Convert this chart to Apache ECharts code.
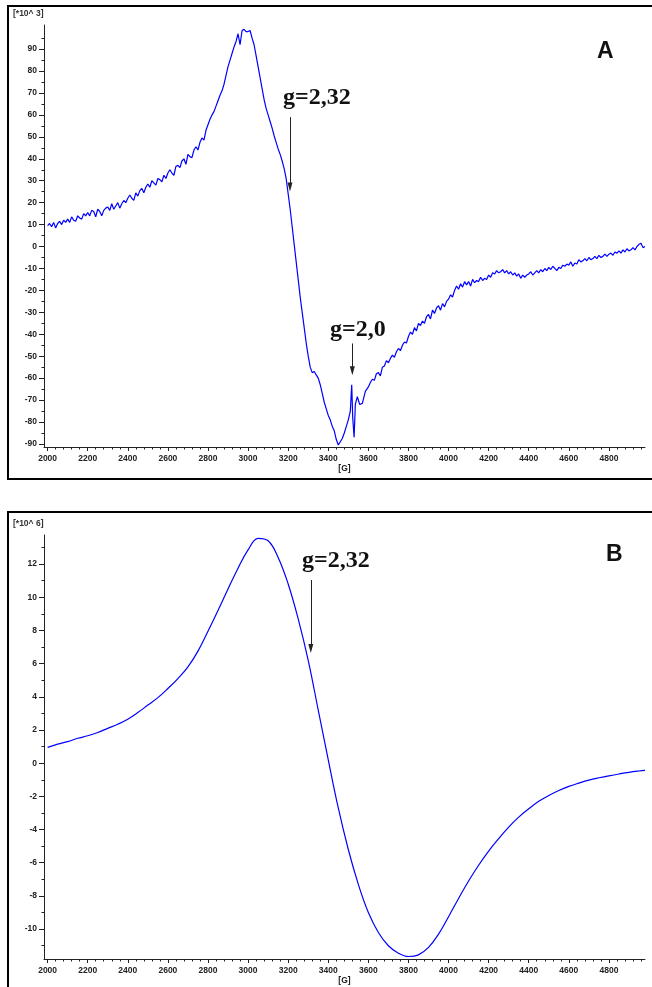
<!DOCTYPE html>
<html>
<head>
<meta charset="utf-8">
<script src="https://cdn.jsdelivr.net/npm/echarts@6/dist/echarts.min.js"></script>
<style>
html, body { margin: 0; padding: 0; background: #fff; }
#main { width: 652px; height: 987px; }
</style>
</head>
<body>
<div id="main"></div>
<script>
// tick labels
var fieldTicks = [2000, 2200, 2400, 2600, 2800, 3000, 3200, 3400, 3600, 3800, 4000, 4200, 4400, 4600, 4800];
var ticksA = [-90, -80, -70, -60, -50, -40, -30, -20, -10, 0, 10, 20, 30, 40, 50, 60, 70, 80, 90];
var ticksB = [-10, -8, -6, -4, -2, 0, 2, 4, 6, 8, 10, 12];

// spectrum A (x10^3), field in G
var fieldA = [
    2000, 2010, 2020, 2030, 2040, 2050, 2060, 2070, 2080, 2090, 2100, 2110, 2120, 2130, 2140, 2150, 2160, 2170, 2180, 2190,
    2200, 2210, 2220, 2230, 2240, 2250, 2260, 2270, 2280, 2290, 2300, 2310, 2320, 2330, 2340, 2350, 2360, 2370, 2380, 2390,
    2400, 2410, 2420, 2430, 2440, 2450, 2460, 2470, 2480, 2490, 2500, 2510, 2520, 2530, 2540, 2550, 2560, 2570, 2580, 2590,
    2600, 2610, 2620, 2630, 2640, 2650, 2660, 2670, 2680, 2690, 2700, 2710, 2720, 2730, 2740, 2750, 2760, 2770, 2780, 2790,
    2800, 2810, 2820, 2830, 2840, 2850, 2860, 2870, 2880, 2890, 2900, 2910, 2920, 2930, 2940, 2950, 2960, 2970, 2980, 2990,
    3000, 3010, 3020, 3030, 3040, 3050, 3060, 3070, 3080, 3090, 3100, 3110, 3120, 3130, 3140, 3150, 3160, 3170, 3180, 3190,
    3200, 3210, 3220, 3230, 3240, 3250, 3260, 3270, 3280, 3290, 3300, 3310, 3320, 3330, 3340, 3350, 3360, 3370, 3380, 3390,
    3400, 3410, 3420, 3430, 3440, 3450, 3460, 3470, 3480, 3490, 3500, 3510, 3517, 3522, 3529, 3535, 3545, 3557, 3570, 3585,
    3600, 3610, 3620, 3630, 3640, 3650, 3660, 3670, 3680, 3690, 3700, 3710, 3720, 3730, 3740, 3750, 3760, 3770, 3780, 3790,
    3800, 3810, 3820, 3830, 3840, 3850, 3860, 3870, 3880, 3890, 3900, 3910, 3920, 3930, 3940, 3950, 3960, 3970, 3980, 3990,
    4000, 4010, 4020, 4030, 4040, 4050, 4060, 4070, 4080, 4090, 4100, 4110, 4120, 4130, 4140, 4150, 4160, 4170, 4180, 4190,
    4200, 4210, 4220, 4230, 4240, 4250, 4260, 4270, 4280, 4290, 4300, 4310, 4320, 4330, 4340, 4350, 4360, 4370, 4380, 4390,
    4400, 4410, 4420, 4430, 4440, 4450, 4460, 4470, 4480, 4490, 4500, 4510, 4520, 4530, 4540, 4550, 4560, 4570, 4580, 4590,
    4600, 4610, 4620, 4630, 4640, 4650, 4660, 4670, 4680, 4690, 4700, 4710, 4720, 4730, 4740, 4750, 4760, 4770, 4780, 4790,
    4800, 4810, 4820, 4830, 4840, 4850, 4860, 4870, 4880, 4890, 4900, 4910, 4920, 4930, 4940, 4950, 4960, 4970, 4980
];
var signalA = [
    9.5, 10.5, 9, 11, 8.5, 10.5, 11.5, 10, 12, 11, 12.5, 11, 13.5, 12, 11.5, 14, 13, 12.5, 15, 14,
    15.5, 14, 16.5, 16, 13.5, 17, 16, 14, 16.5, 17.5, 18, 16.5, 19.5, 17, 18.5, 20, 17.5, 19.5, 21, 20,
    22, 23.5, 22, 21, 24.5, 23, 25.5, 26.5, 24.5, 27, 28.5, 27, 30, 29, 28, 31, 30.5, 29.5, 32.5, 31,
    33.5, 35, 33.5, 32.5, 36.5, 37, 36, 39, 40, 37.5, 42, 41, 40.5, 44, 45.5, 44, 47.5, 49.5, 48.5, 53,
    55.5, 58, 60, 61.5, 64, 66.5, 69, 71, 74, 78, 82, 85, 88, 91, 93.5, 97, 92, 98.5, 99, 98,
    98, 98.5, 95, 92, 87, 82, 77, 72, 67, 63, 60, 57, 54, 50.5, 47.5, 44.5, 42, 39, 35.5, 31,
    24, 17, 9, 1, -7, -15, -23, -30, -37, -44, -50, -55, -57.5, -57, -58.5, -60, -63, -67, -71, -74,
    -77, -79, -82, -84, -88, -90.5, -89, -87.5, -85, -82, -79, -75, -63, -78, -87, -72, -68.5, -72, -71.5, -66,
    -64, -62, -60.5, -61, -58, -57.5, -59, -55, -54.5, -52, -53, -51, -49.5, -50.5, -48, -46.5, -47.5, -45, -43.5, -44,
    -41, -39, -40, -37, -38.5, -35, -36, -34, -35, -32, -31, -33, -29, -30.5, -28, -27, -29, -26, -27.5, -25,
    -24, -22, -23, -20, -18, -19.5, -17, -18.5, -16, -17.5, -16, -18, -15, -16.5, -15.5, -16, -14, -15.5, -14.5, -15,
    -13, -14, -12, -12.5, -11, -12, -11.5, -10.5, -12, -11, -12.5, -11.5, -13, -12, -13.5, -12.5, -14.5, -13, -14, -13,
    -12.5, -11.5, -13, -12, -11, -12, -10.5, -11.5, -10, -11, -9.5, -10.5, -9, -10, -11, -9.5, -10, -8.5, -9, -8,
    -8.5, -7, -9, -7.5, -8, -6, -7, -6.5, -5.5, -6.5, -5, -6, -5.5, -4.5, -5.5, -4, -5, -4.5, -3.5, -4.5,
    -3.5, -3, -4, -2.5, -3, -2, -3, -1.5, -2.5, -1, -2, -1.5, -0.5, -1.5, 0, 1, 1.5, -0.5, 0
];

// spectrum B (x10^6)
var fieldB = [
    2000, 2050, 2100, 2150, 2200, 2250, 2300, 2350, 2400, 2450,
    2500, 2550, 2600, 2650, 2700, 2750, 2800, 2850, 2900, 2950,
    3000, 3050, 3100, 3150, 3200, 3250, 3300, 3350, 3400, 3450,
    3500, 3550, 3600, 3650, 3700, 3750, 3800, 3850, 3900, 3950,
    4000, 4050, 4100, 4150, 4200, 4250, 4300, 4350, 4400, 4450,
    4500, 4550, 4600, 4650, 4700, 4750, 4800, 4850, 4900, 4950, 4980
];
var signalB = [
    0.95, 1.15, 1.3, 1.5, 1.65, 1.85, 2.1, 2.35, 2.65, 3.05,
    3.5, 3.95, 4.5, 5.1, 5.8, 6.75, 7.95, 9.2, 10.5, 11.75,
    12.85, 13.55, 13.4, 12.4, 10.8, 8.7, 6.2, 3.2, 0.2, -2.7,
    -5.2, -7.3, -9.0, -10.2, -11.0, -11.45, -11.65, -11.55, -11.1, -10.3,
    -9.25, -8.15, -7.1, -6.15, -5.3, -4.55, -3.85, -3.25, -2.75, -2.3,
    -1.95, -1.65, -1.4, -1.2, -1.02, -0.88, -0.76, -0.65, -0.55, -0.47, -0.43
];

// minor tick positions between the labelled ticks
var minorField = [];
for (var f = 2040; f < 4980; f += 40) { if (f % 200 !== 0) minorField.push(f); }
var minorA = [];
for (var a = -85; a <= 95; a += 10) minorA.push(a);
var minorB = [];
for (var b = -11; b <= 13; b += 2) minorB.push(b);

var axisColor = '#222';
var labelStyle = { color: '#222', fontSize: 8.5, fontWeight: 'bold', fontFamily: 'Liberation Sans' };

function plain(v) { return String(v); }

function fieldAxis(grid, minor) {
    return {
        type: 'value', gridIndex: grid, position: 'bottom', min: 1982, max: 4980,
        name: minor ? '' : '[G]', nameLocation: 'middle', nameGap: 17,
        nameTextStyle: labelStyle,
        axisLine: { show: !minor, onZero: false, lineStyle: { color: axisColor, width: 1 } },
        axisTick: { show: true, length: minor ? 2.5 : 4, customValues: minor ? minorField : fieldTicks,
                    lineStyle: { color: axisColor, width: 1 } },
        axisLabel: Object.assign({ show: !minor, margin: 7, customValues: fieldTicks, formatter: plain }, labelStyle),
        splitLine: { show: false }
    };
}

function signalAxis(grid, lo, hi, major, minors, minor) {
    return {
        type: 'value', gridIndex: grid, position: 'left', min: lo, max: hi,
        axisLine: { show: !minor, onZero: false, lineStyle: { color: axisColor, width: 1 } },
        axisTick: { show: true, length: minor ? 2.5 : 5, customValues: minor ? minors : major,
                    lineStyle: { color: axisColor, width: 1 } },
        axisLabel: Object.assign({ show: !minor, margin: 7, customValues: major, formatter: plain }, labelStyle),
        splitLine: { show: false }
    };
}

function arrow(x, yTop, yTip) {
    return [{ coord: [x, yTop], symbol: 'none' }, { coord: [x, yTip], symbol: 'triangle', symbolSize: [5, 9] }];
}

var chart = echarts.init(document.getElementById('main'));
chart.setOption({
    animation: false,
    backgroundColor: '#fff',
    grid: [
        { left: 44, right: 7, top: 25, bottom: 540 },
        { left: 44, right: 7, top: 535, bottom: 28 }
    ],
    xAxis: [fieldAxis(0, false), fieldAxis(0, true), fieldAxis(1, false), fieldAxis(1, true)],
    yAxis: [
        signalAxis(0, -91.4, 101, ticksA, minorA, false),
        signalAxis(0, -91.4, 101, ticksA, minorA, true),
        signalAxis(1, -11.8, 13.75, ticksB, minorB, false),
        signalAxis(1, -11.8, 13.75, ticksB, minorB, true)
    ],
    series: [
        {
            type: 'line', xAxisIndex: 0, yAxisIndex: 0, showSymbol: false,
            lineStyle: { color: '#0000ff', width: 1.2 },
            data: fieldA.map(function (f, i) { return [f, signalA[i]]; }),
            markLine: {
                silent: true, animation: false, label: { show: false },
                lineStyle: { color: '#222', width: 1, type: 'solid' },
                data: [arrow(3209, 59, 27.1), arrow(3520, -44.2, -56.6)]
            }
        },
        {
            type: 'line', xAxisIndex: 2, yAxisIndex: 2, showSymbol: false, smooth: 0.4,
            lineStyle: { color: '#0000ff', width: 1.2 },
            data: fieldB.map(function (f, i) { return [f, signalB[i]]; }),
            markLine: {
                silent: true, animation: false, label: { show: false },
                lineStyle: { color: '#222', width: 1, type: 'solid' },
                data: [arrow(3313, 11.04, 6.91)]
            }
        }
    ],
    graphic: [
        { type: 'rect', shape: { x: 8, y: 6, width: 700, height: 473 }, style: { fill: 'none', stroke: '#000', lineWidth: 2 } },
        { type: 'rect', shape: { x: 8, y: 512, width: 700, height: 500 }, style: { fill: 'none', stroke: '#000', lineWidth: 2 } },
        { type: 'text', x: 13, y: 9, style: { text: '[*10^ 3]', font: 'bold 8.5px "Liberation Sans"', fill: '#333' } },
        { type: 'text', x: 13, y: 519, style: { text: '[*10^ 6]', font: 'bold 8.5px "Liberation Sans"', fill: '#333' } },
        { type: 'text', x: 597, y: 40, style: { text: 'A', font: 'bold 23px "Liberation Sans"', fill: '#111' } },
        { type: 'text', x: 606, y: 543, style: { text: 'B', font: 'bold 23px "Liberation Sans"', fill: '#111' } },
        { type: 'text', x: 283, y: 86, style: { text: 'g=2,32', font: 'bold 24px "Liberation Serif"', fill: '#111' } },
        { type: 'text', x: 330, y: 318, style: { text: 'g=2,0', font: 'bold 24px "Liberation Serif"', fill: '#111' } },
        { type: 'text', x: 302, y: 549, style: { text: 'g=2,32', font: 'bold 24px "Liberation Serif"', fill: '#111' } }
    ]
});

window.addEventListener('resize', function () { chart.resize(); });
</script>
</body>
</html>
